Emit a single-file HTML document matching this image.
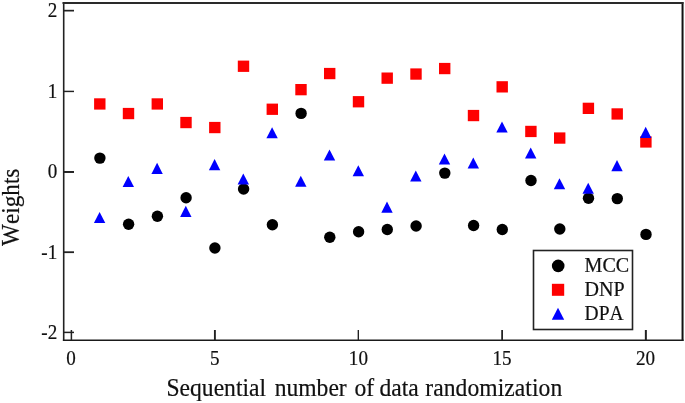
<!DOCTYPE html>
<html><head><meta charset="utf-8"><title>Weights</title>
<style>
html,body{margin:0;padding:0;background:#fff;}
svg{display:block;}
text{font-family:"Liberation Serif",serif;fill:#111;stroke:#111;stroke-width:0.2px;font-kerning:none;}
.t{font-size:19.5px;}
.a{font-size:24px;}
</style></head><body>
<svg width="685" height="403" viewBox="0 0 685 403">
<rect width="685" height="403" fill="#fff"/>
<line x1="63.7" x2="63.7" y1="1.95" y2="341.1" stroke="#222" stroke-width="1.6"/>
<line x1="682.55" x2="682.55" y1="1.95" y2="341.1" stroke="#111" stroke-width="2"/>
<line x1="62.5" x2="683.4" y1="2.97" y2="2.97" stroke="#2a2a2a" stroke-width="2"/>
<line x1="62.9" x2="683.55" y1="340.25" y2="340.25" stroke="#1a1a1a" stroke-width="1.7"/>
<line x1="63.7" x2="74" y1="10.65" y2="10.65" stroke="#222" stroke-width="1.7"/>
<text class="t" transform="translate(57.2,16.7) scale(0.98,1.05)" text-anchor="end">2</text>
<line x1="63.7" x2="74" y1="91.42" y2="91.42" stroke="#222" stroke-width="1.45"/>
<text class="t" transform="translate(57.2,97.9) scale(0.98,1.05)" text-anchor="end">1</text>
<line x1="63.7" x2="74" y1="171.97" y2="171.97" stroke="#222" stroke-width="2.0"/>
<text class="t" transform="translate(57.2,177.7) scale(0.98,1.05)" text-anchor="end">0</text>
<line x1="63.7" x2="74" y1="252.2" y2="252.2" stroke="#222" stroke-width="1.8"/>
<text class="t" transform="translate(57.2,258.9) scale(0.98,1.05)" text-anchor="end">-1</text>
<line x1="63.7" x2="74" y1="332.4" y2="332.4" stroke="#222" stroke-width="1.5"/>
<text class="t" transform="translate(57.2,338.7) scale(0.98,1.05)" text-anchor="end">-2</text>
<line x1="71.4" x2="71.4" y1="340.25" y2="330" stroke="#222" stroke-width="1.5"/>
<text class="t" transform="translate(71.1,364.6) scale(0.98,1.05)" text-anchor="middle">0</text>
<line x1="214.9" x2="214.9" y1="340.25" y2="330" stroke="#222" stroke-width="1.9"/>
<text class="t" transform="translate(214.7,364.6) scale(0.98,1.05)" text-anchor="middle">5</text>
<line x1="358.33" x2="358.33" y1="340.25" y2="330" stroke="#222" stroke-width="1.4"/>
<text class="t" transform="translate(358.4,364.6) scale(0.98,1.05)" text-anchor="middle">10</text>
<line x1="502.13" x2="502.13" y1="340.25" y2="330" stroke="#222" stroke-width="1.8"/>
<text class="t" transform="translate(502.0,364.6) scale(0.98,1.05)" text-anchor="middle">15</text>
<line x1="645.86" x2="645.86" y1="340.25" y2="330" stroke="#222" stroke-width="2.0"/>
<text class="t" transform="translate(645.6,364.6) scale(0.98,1.05)" text-anchor="middle">20</text>
<circle cx="99.9" cy="158.1" r="5.7" fill="#000"/>
<circle cx="128.6" cy="224.3" r="5.7" fill="#000"/>
<circle cx="157.4" cy="216.2" r="5.7" fill="#000"/>
<circle cx="186.1" cy="197.8" r="5.7" fill="#000"/>
<circle cx="214.9" cy="248" r="5.7" fill="#000"/>
<circle cx="243.6" cy="189" r="5.7" fill="#000"/>
<circle cx="272.4" cy="224.8" r="5.7" fill="#000"/>
<circle cx="301.1" cy="113.4" r="5.7" fill="#000"/>
<circle cx="329.8" cy="237.3" r="5.7" fill="#000"/>
<circle cx="358.6" cy="231.8" r="5.7" fill="#000"/>
<circle cx="387.3" cy="229.5" r="5.7" fill="#000"/>
<circle cx="416.1" cy="226" r="5.7" fill="#000"/>
<circle cx="444.8" cy="173.1" r="5.7" fill="#000"/>
<circle cx="473.6" cy="225.5" r="5.7" fill="#000"/>
<circle cx="502.3" cy="229.5" r="5.7" fill="#000"/>
<circle cx="531.0" cy="180.5" r="5.7" fill="#000"/>
<circle cx="559.8" cy="229" r="5.7" fill="#000"/>
<circle cx="588.5" cy="198.3" r="5.7" fill="#000"/>
<circle cx="617.3" cy="198.6" r="5.7" fill="#000"/>
<circle cx="646.0" cy="234.4" r="5.7" fill="#000"/>
<rect x="94.1" y="98.3" width="11.4" height="11.3" fill="#fe0000"/>
<rect x="122.8" y="107.9" width="11.4" height="11.3" fill="#fe0000"/>
<rect x="151.6" y="98.3" width="11.4" height="11.3" fill="#fe0000"/>
<rect x="180.3" y="116.9" width="11.4" height="11.3" fill="#fe0000"/>
<rect x="209.1" y="121.9" width="11.4" height="11.3" fill="#fe0000"/>
<rect x="237.8" y="60.6" width="11.4" height="11.3" fill="#fe0000"/>
<rect x="266.6" y="103.6" width="11.4" height="11.3" fill="#fe0000"/>
<rect x="295.3" y="84.0" width="11.4" height="11.3" fill="#fe0000"/>
<rect x="324.0" y="67.9" width="11.4" height="11.3" fill="#fe0000"/>
<rect x="352.8" y="96.1" width="11.4" height="11.3" fill="#fe0000"/>
<rect x="381.5" y="72.5" width="11.4" height="11.3" fill="#fe0000"/>
<rect x="410.3" y="68.4" width="11.4" height="11.3" fill="#fe0000"/>
<rect x="439.0" y="62.9" width="11.4" height="11.3" fill="#fe0000"/>
<rect x="467.8" y="109.9" width="11.4" height="11.3" fill="#fe0000"/>
<rect x="496.5" y="81.2" width="11.4" height="11.3" fill="#fe0000"/>
<rect x="525.2" y="125.8" width="11.4" height="11.3" fill="#fe0000"/>
<rect x="554.0" y="132.4" width="11.4" height="11.3" fill="#fe0000"/>
<rect x="582.7" y="102.7" width="11.4" height="11.3" fill="#fe0000"/>
<rect x="611.5" y="108.3" width="11.4" height="11.3" fill="#fe0000"/>
<rect x="640.2" y="136.3" width="11.4" height="11.3" fill="#fe0000"/>
<polygon points="93.9,223.0 105.3,223.0 99.6,211.9" fill="#0000fe"/>
<polygon points="122.6,187.1 134.0,187.1 128.3,176.0" fill="#0000fe"/>
<polygon points="151.4,173.9 162.8,173.9 157.1,162.8" fill="#0000fe"/>
<polygon points="180.1,216.9 191.5,216.9 185.8,205.8" fill="#0000fe"/>
<polygon points="208.9,170.2 220.3,170.2 214.6,159.1" fill="#0000fe"/>
<polygon points="237.6,184.6 249.0,184.6 243.3,173.5" fill="#0000fe"/>
<polygon points="266.4,138.3 277.8,138.3 272.1,127.2" fill="#0000fe"/>
<polygon points="295.1,186.8 306.5,186.8 300.8,175.7" fill="#0000fe"/>
<polygon points="323.8,160.5 335.2,160.5 329.5,149.4" fill="#0000fe"/>
<polygon points="352.6,176.3 364.0,176.3 358.3,165.2" fill="#0000fe"/>
<polygon points="381.3,212.7 392.7,212.7 387.0,201.6" fill="#0000fe"/>
<polygon points="410.1,181.6 421.5,181.6 415.8,170.5" fill="#0000fe"/>
<polygon points="438.8,164.5 450.2,164.5 444.5,153.4" fill="#0000fe"/>
<polygon points="467.6,168.5 479.0,168.5 473.3,157.4" fill="#0000fe"/>
<polygon points="496.3,132.6 507.7,132.6 502.0,121.5" fill="#0000fe"/>
<polygon points="525.0,158.5 536.4,158.5 530.7,147.4" fill="#0000fe"/>
<polygon points="553.8,189.3 565.2,189.3 559.5,178.2" fill="#0000fe"/>
<polygon points="582.5,193.8 593.9,193.8 588.2,182.7" fill="#0000fe"/>
<polygon points="611.3,171.2 622.7,171.2 617.0,160.1" fill="#0000fe"/>
<polygon points="640.0,137.9 651.4,137.9 645.7,126.8" fill="#0000fe"/>
<rect x="533.5" y="250.5" width="99" height="79" fill="#fff" stroke="#222" stroke-width="1.6"/>
<circle cx="558.2" cy="265.9" r="6.3" fill="#000"/>
<rect x="551.9" y="283.8" width="12.3" height="12" fill="#fe0000"/>
<polygon points="551.8,319.8 564.2,319.8 558.0,307.8" fill="#0000fe"/>
<text class="t" transform="translate(584.6,271.6) scale(1.03,1.04)">MCC</text>
<text class="t" transform="translate(584.6,295.7) scale(1.03,1.04)">DNP</text>
<text class="t" transform="translate(584.6,319.6) scale(1.0,1.04)">DPA</text>
<text class="a" transform="translate(0,395.5) scale(0.983,1.07)"><tspan x="169.38">Sequential</tspan> <tspan x="279.45">number</tspan> <tspan x="360.53">of</tspan> <tspan x="385.96">data</tspan> <tspan x="432.66" letter-spacing="0.06">randomization</tspan></text>
<text class="a" transform="translate(19.0,207.3) rotate(-90) scale(0.967,1.05)" text-anchor="middle">Weights</text>
</svg></body></html>
